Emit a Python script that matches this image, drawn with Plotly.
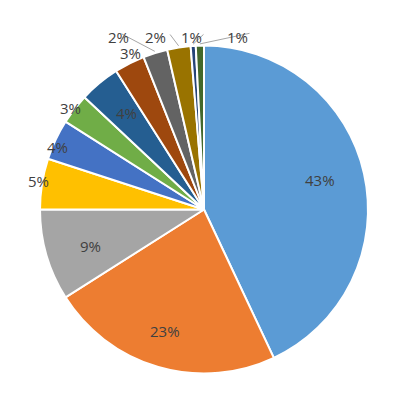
import math
import plotly.graph_objects as go

values = [43, 23, 9, 5, 4, 3, 4, 3, 2.4, 2.3, 0.5, 0.8]
labels_text = ["43%", "23%", "9%", "5%", "4%", "3%", "4%", "3%", "2%", "2%", "1%", "1%"]
colors = ["#5B9BD5", "#ED7D31", "#A5A5A5", "#FFC000", "#4472C4", "#70AD47",
          "#255E91", "#9E480E", "#636363", "#997300", "#264478", "#43682B"]
# label distance as fraction of radius (None -> leader line label)
label_r = [0.83, 0.85, 0.8, 1.1, 1.07, 1.13, 0.86, 1.15, None, None, None, None]
leader_pos = [(98, 17), (147, 17), (183, 17), (229, 17)]

W = H = 400
x0, x1, y0, y1 = 32, 360, 37, 366   # pie box in pixels
cx, cy, R = (x0 + x1) / 2, (y0 + y1) / 2, (x1 - x0) / 2

fig = go.Figure(go.Pie(
    values=values, textinfo="none", sort=False,
    direction="clockwise", rotation=0,
    marker=dict(colors=colors, line=dict(color="white", width=2)),
    domain=dict(x=[x0 / W, x1 / W], y=[1 - y1 / H, 1 - y0 / H]),
    hoverinfo="none",
))

font = dict(family="Open Sans", size=15, color="#404040")
total = sum(values)
cum = 0
k = 0
for v, t, lr in zip(values, labels_text, label_r):
    th = math.radians(360 * (cum + v / 2) / total)
    cum += v
    if lr is not None:
        px, py = cx + lr * R * math.sin(th), cy - lr * R * math.cos(th)
        fig.add_annotation(x=px / W, y=1 - py / H, xref="paper", yref="paper",
                           text=t, showarrow=False, font=font)
    else:
        tx, ty = cx + 1.01 * R * math.sin(th), cy - 1.01 * R * math.cos(th)
        lx, ly = leader_pos[k]
        k += 1
        fig.add_annotation(x=tx / W, y=1 - ty / H, xref="paper", yref="paper",
                           ax=lx + 14 - tx, ay=ly + 8 - ty, text="", showarrow=True,
                           arrowhead=0, arrowwidth=1, arrowcolor="#A6A6A6")
        fig.add_annotation(x=lx / W, y=1 - ly / H, xref="paper", yref="paper",
                           text=t, showarrow=False, font=font)

fig.update_layout(width=W, height=H, showlegend=False,
                  margin=dict(l=0, r=0, t=0, b=0), paper_bgcolor="white")
fig.write_html("out.html")
